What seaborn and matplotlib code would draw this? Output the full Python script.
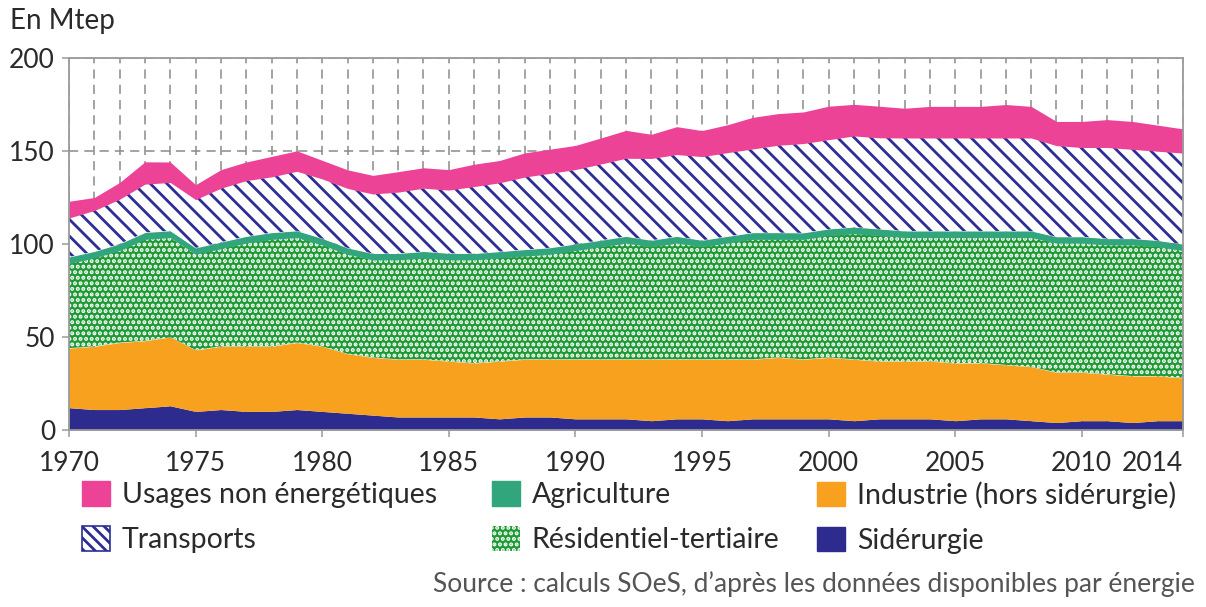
import numpy as np
import matplotlib
matplotlib.use("Agg")
import matplotlib.pyplot as plt
import matplotlib.transforms as mtransforms
from matplotlib.patches import Patch
import seaborn as sns

sns.set_style("white")
plt.rcParams['font.family'] = ['Lato', 'DejaVu Sans']
plt.rcParams['hatch.linewidth'] = 2.0

years = np.arange(1970, 2015)

# Mtep
siderurgie = [12, 11, 11, 12, 13, 10, 11, 10, 10, 11, 10, 9, 8, 7, 7, 7, 7, 6, 7, 7,
              6, 6, 6, 5, 6, 6, 5, 6, 6, 6, 6, 5, 6, 6, 6, 5, 6, 6, 5, 4, 5, 5, 4, 5, 5]
industrie = [32, 34, 36, 36, 37, 33, 34, 35, 35, 36, 35, 32, 31, 31, 31, 30, 29, 31, 31, 31,
             32, 32, 32, 33, 32, 32, 33, 32, 33, 32, 33, 33, 31, 31, 31, 31, 30, 29, 29, 27,
             26, 25, 25, 24, 23]
residentiel = [45.5, 47.5, 49.5, 54.5, 53.5, 51.5, 52.5, 55.5, 57.5, 56.5, 54.5, 53.5, 52.5,
               53.5, 54.5, 54.5, 55.5, 55.5, 55.5, 56.5, 58.5, 60.5, 62.5, 60.5, 62.5, 60.5,
               62.5, 64.5, 63.5, 64.5, 65.5, 67.5, 67.5, 66.5, 66.5, 67.5, 67.5, 68.5, 69.5,
               69.5, 69.5, 69.5, 70.5, 69.5, 68.5]
agriculture = [3.5, 3.5, 3.6, 3.7, 3.6, 3.4, 3.5, 3.6, 3.6, 3.6, 3.5, 3.4, 3.4, 3.4, 3.5,
               3.5, 3.4, 3.4, 3.5, 3.5, 3.5, 3.5, 3.6, 3.5, 3.6, 3.5, 3.6, 3.6, 3.6, 3.5,
               3.6, 3.6, 3.6, 3.5, 3.5, 3.5, 3.5, 3.5, 3.5, 3.4, 3.4, 3.4, 3.4, 3.4, 3.4]
transports = [21, 22, 24, 26, 26, 26, 29, 30, 30, 32, 32, 32, 32, 33, 34, 34, 36, 37, 39, 40,
              40, 41, 42, 44, 44, 45, 45, 45, 47, 48, 48, 49, 49, 50, 50, 50, 50, 50, 50, 49,
              48, 49, 48, 48, 49]
usages = [9, 7, 9, 12, 11, 8, 10, 10, 11, 11, 10, 10, 10, 11, 11, 11, 12, 12, 13, 13,
          13, 14, 15, 13, 15, 14, 15, 17, 17, 17, 18, 17, 17, 16, 17, 17, 17, 18, 17, 13,
          14, 15, 15, 14, 13]

series = [siderurgie, industrie, residentiel, agriculture, transports, usages]
faces = ["#2E2B8E", "#F7A11F", "#1E9A34", "#31A67C", "white", "#EC4397"]
hatch_cols = [None, None, "white", None, "#2C2E96", None]
hatches = [None, None, "...", None, "\\\\", None]

fig = plt.figure(figsize=(12.06, 6.07), dpi=100)
ax = fig.add_axes([0.0572, 0.2916, 0.9238, 0.6128])

bottom = np.zeros(len(years))
for vals, fc, hc, h in zip(series, faces, hatch_cols, hatches):
    top = bottom + np.array(vals)
    ax.fill_between(years, bottom, top, facecolor=fc,
                    edgecolor=hc if hc else fc, hatch=h, linewidth=0, zorder=2)
    bottom = top

ax.set_xlim(1970, 2014)
ax.set_ylim(0, 200)
ax.set_yticks([0, 50, 100, 150, 200])
xt = list(range(1970, 2011, 5)) + [2014]
ax.set_xticks(xt)
ax.set_xticks(years, minor=True)
ax.set_xticklabels([str(v) for v in xt])
last = ax.get_xticklabels()[-1]
last.set_horizontalalignment("right")
last.set_transform(last.get_transform() + mtransforms.ScaledTranslation(0.15, 0, fig.dpi_scale_trans))

ax.set_axisbelow(True)
ax.grid(True, which="both", axis="x", color="#8a8a8a", linestyle=(0, (6, 4)), linewidth=1.1)
ax.grid(True, which="major", axis="y", color="#8a8a8a", linestyle=(0, (6, 4)), linewidth=1.1)

for s in ax.spines.values():
    s.set_color("#9a9a9a")
    s.set_linewidth(1.3)
ax.tick_params(axis="both", which="major", length=5, width=1.1, color="#9a9a9a",
               labelsize=19, labelcolor="#2a2a2a")
ax.tick_params(axis="x", which="minor", length=0)
ax.tick_params(axis="x", which="major", direction="out", bottom=True, pad=10)
ax.tick_params(axis="y", which="major", direction="out", left=True, pad=5)

fig.text(0.008, 0.965, "En Mtep", fontsize=20, color="#2a2a2a", ha="left", va="center")

handles = {
    "Usages non énergétiques": Patch(facecolor="#EC4397", edgecolor="#EC4397"),
    "Transports": Patch(facecolor="white", edgecolor="#2C2E96", hatch="\\\\\\", linewidth=1.2),
    "Agriculture": Patch(facecolor="#31A67C", edgecolor="#31A67C"),
    "Résidentiel-tertiaire": Patch(facecolor="#1E9A34", edgecolor="white", hatch="...", linewidth=0),
    "Industrie (hors sidérurgie)": Patch(facecolor="#F7A11F", edgecolor="#F7A11F"),
    "Sidérurgie": Patch(facecolor="#2E2B8E", edgecolor="#2E2B8E"),
}
columns = [["Usages non énergétiques", "Transports"],
           ["Agriculture", "Résidentiel-tertiaire"],
           ["Industrie (hors sidérurgie)", "Sidérurgie"]]
col_x = [82 / 1206, 492 / 1206, 817 / 1206]
for names, x0 in zip(columns, col_x):
    leg = fig.legend([handles[k] for k in names], names, loc="upper left",
                     bbox_to_anchor=(x0, 0.207), frameon=False, fontsize=20.5,
                     handlelength=1.0, handleheight=0.95, handletextpad=0.4,
                     labelspacing=0.62, borderpad=0, borderaxespad=0)
    for t in leg.get_texts():
        t.set_color("#2a2a2a")

fig.text(0.991, 0.016, "Source : calculs SOeS, d\u2019après les données disponibles par énergie",
         fontsize=19, color="#555555", ha="right", va="bottom")

fig.savefig("out.png", dpi=100)
